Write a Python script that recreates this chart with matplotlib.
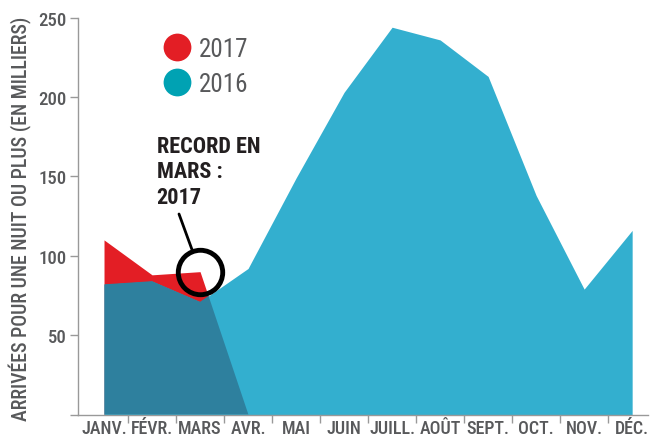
import matplotlib
matplotlib.use("Agg")
import matplotlib.pyplot as plt
from matplotlib.lines import Line2D
import numpy as np

months = ["JANV.", "FÉVR.", "MARS", "AVR.", "MAI", "JUIN", "JUILL.", "AOÛT",
          "SEPT.", "OCT.", "NOV.", "DÉC."]
arrivals_2016 = [82, 84, 71, 92, 149, 203, 244, 236, 213, 138, 79, 116]
# 2017: Jan-Mar, the area closes to 0 at April (no data yet)
arrivals_2017 = [110, 88, 90, 0]
yticks = [0, 50, 100, 150, 200, 250]
ytick_labels = ["", "50", "100", "150", "200", "250"]

LIGHT = "#33afcf"
DARK = "#2e809e"
RED = "#e31e25"
TEAL = "#00a2b3"
GRAY = "#58595b"
FONT = ["Roboto Condensed", "DejaVu Sans"]

plt.rcParams["font.family"] = FONT

W, H = 650, 435
fig = plt.figure(figsize=(W / 100, H / 100), dpi=100)
ax = fig.add_axes([77.7 / W, 19.5 / H, (648 - 77.7) / W, (416.3 - 19.5) / H])

x16 = np.arange(len(arrivals_2016))
x17 = np.arange(len(arrivals_2017))

ax.fill_between(x17, 0, arrivals_2017, color=RED, lw=0, zorder=1)
p16 = ax.fill_between(x16, 0, arrivals_2016, color=LIGHT, lw=0, zorder=2)
dark = ax.fill_between(x17, 0, arrivals_2017, color=DARK, lw=0, zorder=3)
dark.set_clip_path(p16.get_paths()[0], ax.transData)

ax.set_xlim(-0.548, 11.33)
ax.set_ylim(0, 250)

ax.set_xticks(x16)
ax.set_xticklabels(months)
ax.set_xticks(np.arange(len(months) - 1) + 0.5, minor=True)
ax.tick_params(axis="x", which="major", length=0, pad=3, labelsize=13,
               labelcolor=GRAY)
ax.tick_params(axis="x", which="minor", length=6, color="#999999", width=1)
for t in ax.get_xticklabels():
    t.set_fontweight("medium")

ax.set_yticks(yticks)
ax.set_yticklabels(ytick_labels)
ax.tick_params(axis="y", length=6, color="#999999", width=1, pad=2,
               labelsize=13.5, labelcolor=GRAY)
for t in ax.get_yticklabels():
    t.set_fontweight("medium")

for s in ["top", "right"]:
    ax.spines[s].set_visible(False)
for s in ["left", "bottom"]:
    ax.spines[s].set_color("#999999")
    ax.spines[s].set_linewidth(1)
    ax.spines[s].set_zorder(5)

fig.text(20 / W, 1 - 219 / H, "ARRIVÉES POUR UNE NUIT OU PLUS (EN MILLIERS)",
         rotation=90, ha="center", va="center", fontsize=14.3,
         fontweight="medium", color=GRAY)

# Legend
handles = [Line2D([], [], ls="", marker="o", ms=20, mew=0, color=RED),
           Line2D([], [], ls="", marker="o", ms=20, mew=0, color=TEAL)]
leg = ax.legend(handles, ["2017", "2016"], loc="upper left",
                bbox_to_anchor=(163 / W, 1 - 38 / H),
                bbox_transform=fig.transFigure, frameon=False,
                prop={"size": 18, "family": FONT}, handlelength=1.1,
                handletextpad=0.34, labelspacing=0.44, borderpad=0,
                borderaxespad=0)
for t in leg.get_texts():
    t.set_color(GRAY)

# Annotation: circle on March 2017 value + label
ax.plot([2], [arrivals_2017[2]], ls="", marker="o", ms=32, mfc="none",
        mec="black", mew=3.5, zorder=6, clip_on=False)
ax.annotate("", xy=(2, arrivals_2017[2]), xytext=(179, H - 215),
            textcoords="figure pixels",
            arrowprops=dict(arrowstyle="-", color="black", lw=2,
                            shrinkA=0, shrinkB=17), zorder=6)
fig.text(156.7 / W, 1 - 136 / H, "RECORD EN\nMARS :\n2017", ha="left",
         va="top", fontsize=16, fontweight="bold", color="#231f20",
         linespacing=1.2)

fig.savefig("out.png", dpi=100)
